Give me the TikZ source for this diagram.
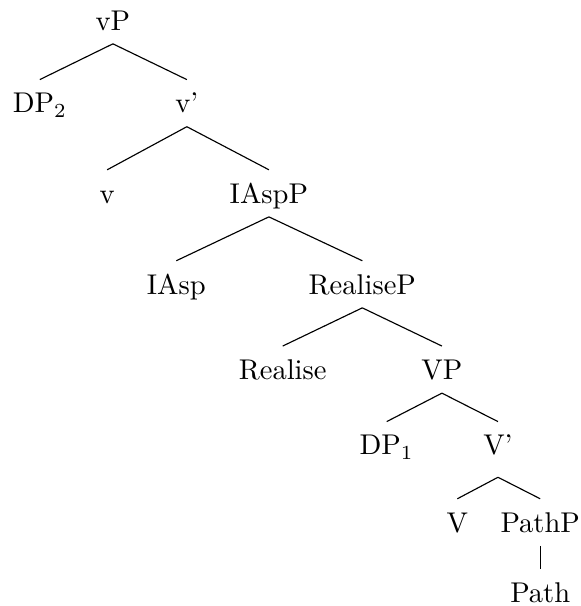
\documentclass[tikz,border=0pt]{standalone}
\begin{document}
\begin{tikzpicture}[
        cat/.style={text height=1.6ex, text depth=0pt, inner xsep=2pt, inner ysep=4.6pt}
    ]
            \useasboundingbox (0,0) rectangle (7.14,7.46);

            \node[cat] (vP) at (1.39,7.21) {vP};
            \node[cat] (DP2) at (0.49,6.19) {DP$_2$};
            \node[cat] (vbar) at (2.30,6.19) {v'};
            \node[cat] (v) at (1.32,5.08) {v};
            \node[cat] (IAspP) at (3.31,5.08) {IAspP};
            \node[cat] (IAsp) at (2.17,3.96) {IAsp};
            \node[cat] (RealiseP) at (4.46,3.96) {RealiseP};
            \node[cat] (Realise) at (3.48,2.91) {Realise};
            \node[cat] (VP) at (5.44,2.91) {VP};
            \node[cat] (DP1) at (4.76,1.98) {DP$_1$};
            \node[cat] (Vbar) at (6.13,1.98) {V'};
            \node[cat] (V) at (5.63,1.03) {V};
            \node[cat] (PathP) at (6.65,1.03) {PathP};
            \node[cat] (Path) at (6.65,0.16) {Path};

            % V' branches start a bit lower
            \coordinate (Vbarfoot) at ([yshift=-3pt]Vbar.south);

            \foreach \p/\c in {vP/DP2, vP/vbar, vbar/v, vbar/IAspP, IAspP/IAsp, IAspP/RealiseP,
                    RealiseP/Realise, RealiseP/VP, VP/DP1, VP/Vbar, PathP/Path} {
                    \draw (\p.south) -- (\c.north);
                }
            \foreach \c in {V, PathP} {
                    \draw (Vbarfoot) -- (\c.north);
                }
        \end{tikzpicture}
\end{document}
